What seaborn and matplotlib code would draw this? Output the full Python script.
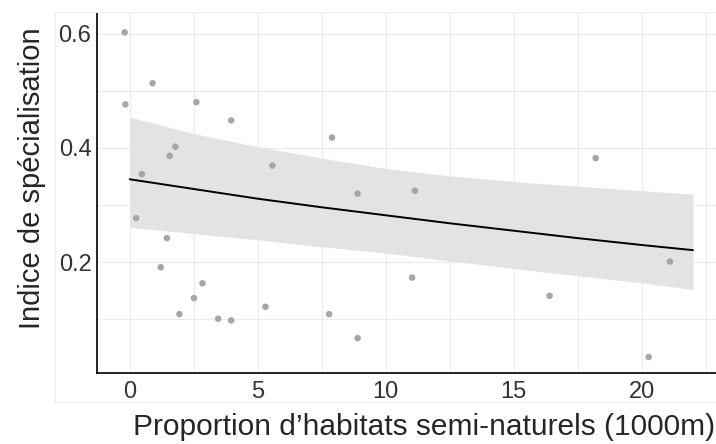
import seaborn as sns
import matplotlib.pyplot as plt
import pandas as pd
from matplotlib.patches import Rectangle
from matplotlib.ticker import MultipleLocator

sns.set_style("white")
plt.rcParams["font.family"] = ["Liberation Sans", "DejaVu Sans"]

habitat = [-0.2, 0.89, -0.17, 2.6, 3.96, 7.9, 1.78, 1.56, 5.57, 0.47, 8.9,
           0.25, 1.45, 1.21, 2.84, 2.51, 1.94, 3.45, 3.96, 5.3, 7.79, 8.9,
           11.14, 11.03, 18.2, 16.4, 21.1, 20.27]
indice = [0.602, 0.513, 0.476, 0.480, 0.448, 0.418, 0.402, 0.386, 0.369, 0.354, 0.320,
          0.277, 0.242, 0.191, 0.163, 0.137, 0.109, 0.101, 0.098, 0.122, 0.109, 0.067,
          0.325, 0.173, 0.382, 0.141, 0.201, 0.034]

# Fitted curve and confidence band
fit_x = [0, 2.5, 5, 7.5, 10, 12.5, 15, 17.5, 20, 22]
fit_y = [0.345, 0.328, 0.311, 0.296, 0.282, 0.268, 0.255, 0.242, 0.230, 0.221]
fit_hi = [0.454, 0.425, 0.402, 0.382, 0.364, 0.351, 0.341, 0.333, 0.325, 0.319]
fit_lo = [0.261, 0.250, 0.239, 0.227, 0.216, 0.202, 0.189, 0.176, 0.164, 0.152]

pts = pd.DataFrame({"habitat": habitat, "indice": indice})
fit = pd.DataFrame({"x": fit_x, "y": fit_y, "hi": fit_hi, "lo": fit_lo})

fig = plt.figure(figsize=(7.16, 4.44), dpi=100)
ax = fig.add_axes([97 / 716, 71 / 444, 619 / 716, 360 / 444])

# faint outer frame seen around the panel
fig.patches.append(Rectangle((55 / 716, 42 / 444), 700 / 716, 390 / 444,
                             transform=fig.transFigure, fill=False,
                             edgecolor="#eeeeee", linewidth=0.8, zorder=0))

ax.fill_between(fit["x"], fit["lo"], fit["hi"], color="#e3e3e3", lw=0, zorder=1)
sns.lineplot(data=fit, x="x", y="y", color="black", linewidth=1.4, ax=ax, zorder=3)
sns.scatterplot(data=pts, x="habitat", y="indice", color="#a6a6a6", s=22,
                edgecolor="none", ax=ax, zorder=4)

ax.set_xlim(-1.28, 22.9)
ax.set_ylim(0.006, 0.636)
ax.xaxis.set_major_locator(MultipleLocator(5))
ax.xaxis.set_minor_locator(MultipleLocator(2.5))
ax.set_yticks([0.2, 0.4, 0.6])
ax.set_yticks([0.1, 0.3, 0.5], minor=True)
ax.grid(True, which="both", color="#ebebeb", linewidth=0.8, zorder=0)
ax.set_axisbelow(True)

for s in ["top", "right"]:
    ax.spines[s].set_visible(False)
for s in ["left", "bottom"]:
    ax.spines[s].set_color("black")
    ax.spines[s].set_linewidth(1.2)

ax.tick_params(which="both", length=0, labelsize=17, labelcolor="#333333")
ax.tick_params(axis="x", pad=6)
ax.tick_params(axis="y", pad=4)
ax.set_xlabel("Proportion d\u2019habitats semi-naturels (1000m)", fontsize=21.5, labelpad=7)
ax.set_ylabel("Indice de spécialisation", fontsize=21, labelpad=9)
# the original panel runs past the right edge, so the x label sits right of centre
ax.xaxis.label.set_x(0.528)
ax.yaxis.label.set_y(0.54)

plt.savefig("out.png", dpi=100)
plt.close()
